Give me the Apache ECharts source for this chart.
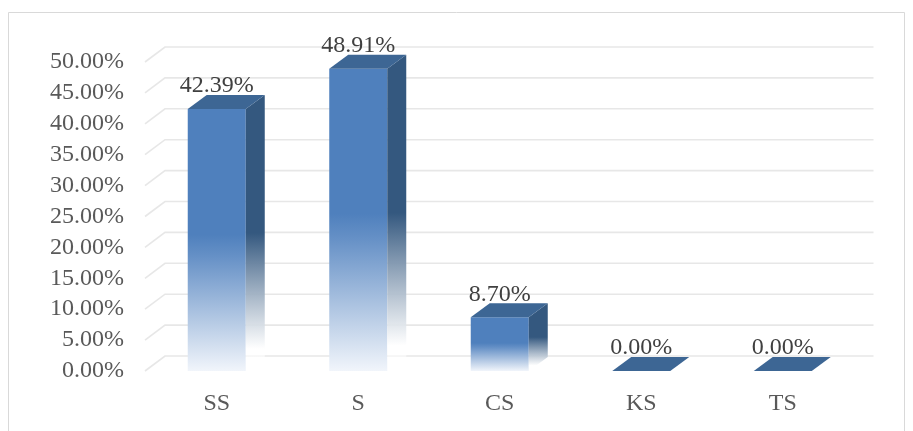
<!DOCTYPE html>
<html>
<head>
<meta charset="utf-8">
<script src="https://cdn.jsdelivr.net/npm/echarts@6/dist/echarts.min.js"></script>
<style>
  html, body { margin: 0; padding: 0; background: #fff; }
  #chart { width: 913px; height: 431px; }
</style>
</head>
<body>
<div id="chart"></div>
<script>
// Share of responses per rating category (percent)
const categories = ['SS', 'S', 'CS', 'KS', 'TS'];
const shares = [42.39, 48.91, 8.70, 0.00, 0.00];
// Value-axis ticks (percent)
const yTicks = [0, 5, 10, 15, 20, 25, 30, 35, 40, 45, 50];

const FONT = 'Liberation Serif';
const FONT_SIZE = 24;
// Depth offsets for the pseudo-3D look
const BAR_DX = 19, BAR_DY = 14;
const WALL_DX = 20, WALL_DY = 15;

const chart = echarts.init(document.getElementById('chart'), null, { renderer: 'canvas' });

function renderWallLine(params, api) {
  const cs = params.coordSys;
  const y = api.coord([0, api.value(0)])[1];
  const x0 = cs.x - 1;
  return {
    type: 'polyline',
    shape: { points: [[x0, y], [x0 + WALL_DX, y - WALL_DY], [cs.x + cs.width + WALL_DX, y - WALL_DY]] },
    style: { stroke: '#e7e7e7', lineWidth: 1.6, fill: null },
    silent: true
  };
}

function renderBar(params, api) {
  const idx = api.value(0);
  const val = api.value(1);
  const base = api.coord([idx, 0]);
  const top = api.coord([idx, val]);
  const w = api.size([1, 0])[0] * 0.41;
  const cx = base[0], by = base[1], ty = top[1];
  const l = cx - w / 2, r = cx + w / 2;
  const children = [];
  if (by - ty > 0.5) {
    children.push({
      type: 'rect',
      shape: { x: l, y: ty, width: w, height: by - ty },
      style: {
        fill: new echarts.graphic.LinearGradient(0, 0, 0, 1, [
          { offset: 0, color: '#4f80bd' },
          { offset: 0.48, color: '#4f80bd' },
          { offset: 0.56, color: '#6590c6' },
          { offset: 1, color: '#f1f5fb' }
        ])
      }
    });
    children.push({
      type: 'polygon',
      shape: { points: [[r, ty], [r + BAR_DX, ty - BAR_DY], [r + BAR_DX, by - BAR_DY], [r, by]] },
      style: {
        fill: new echarts.graphic.LinearGradient(0, 0, 0, 1, [
          { offset: 0, color: '#34587f' },
          { offset: 0.5, color: '#34587f' },
          { offset: 0.92, color: 'rgba(255,255,255,0.9)' },
          { offset: 1, color: 'rgba(255,255,255,0)' }
        ])
      }
    });
  }
  children.push({
    type: 'polygon',
    shape: { points: [[l, ty], [r, ty], [r + BAR_DX, ty - BAR_DY], [l + BAR_DX, ty - BAR_DY]] },
    style: { fill: '#3d6694' }
  });
  children.push({
    type: 'text',
    style: {
      text: val.toFixed(2) + '%',
      x: cx,
      y: ty - BAR_DY + 3,
      align: 'center',
      verticalAlign: 'bottom',
      font: FONT_SIZE + 'px "' + FONT + '"',
      fill: '#404040'
    }
  });
  return { type: 'group', children: children };
}

chart.setOption({
  animation: false,
  backgroundColor: '#ffffff',
  graphic: [{
    type: 'rect',
    shape: { x: 8.5, y: 12.5, width: 896, height: 440 },
    style: { fill: null, stroke: '#d9d9d9', lineWidth: 1 },
    silent: true,
    z: -10
  }],
  grid: { left: 146, right: 59.5, top: 62, bottom: 60, containLabel: false },
  xAxis: {
    type: 'category',
    data: categories,
    axisLine: { show: false },
    axisTick: { show: false },
    axisLabel: { margin: 21, color: '#595959', fontFamily: FONT, fontSize: FONT_SIZE }
  },
  yAxis: {
    type: 'value',
    min: 0,
    max: 50,
    interval: 5,
    axisLine: { show: false },
    axisTick: { show: false },
    splitLine: { show: false },
    axisLabel: {
      margin: 22,
      color: '#595959',
      fontFamily: FONT,
      fontSize: FONT_SIZE,
      formatter: v => v.toFixed(2) + '%'
    }
  },
  series: [
    {
      type: 'custom',
      renderItem: renderWallLine,
      data: yTicks.map(t => [t]),
      encode: { y: 0 },
      z: 1,
      silent: true
    },
    {
      type: 'custom',
      renderItem: renderBar,
      data: shares.map((v, i) => [i, v]),
      encode: { x: 0, y: 1 },
      z: 5
    }
  ]
});
</script>
</body>
</html>
